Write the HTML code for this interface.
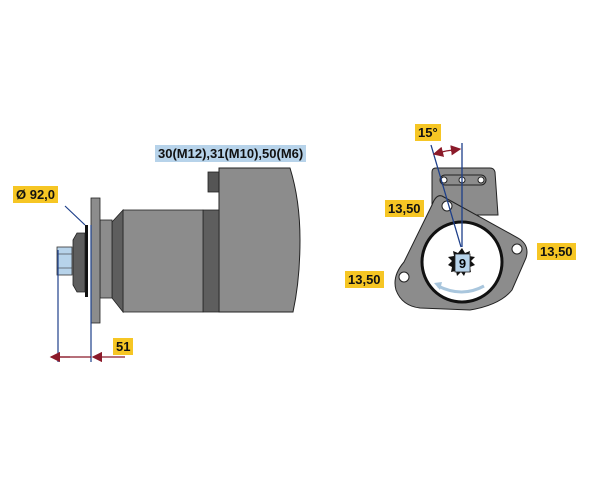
<!DOCTYPE html>
<html><head><style>
body{margin:0;background:#fff;}
.l{position:absolute;font-family:"Liberation Sans",sans-serif;font-weight:bold;font-size:13px;color:#111;}
.y{background:#f6c624;padding:1px 3px;}
</style></head><body>
<div style="position:relative;width:600px;height:500px;overflow:hidden">
<svg width="600" height="500" style="position:absolute;left:0;top:0">
<defs><marker id="a" markerWidth="8" markerHeight="8" refX="7" refY="4" orient="auto"><path d="M0,0 L8,4 L0,8z" fill="#8b1a2a"/></marker></defs>
<!-- left starter -->
<rect x="208" y="172" width="12" height="20" fill="#555" stroke="#222" stroke-width="0.8"/>
<path d="M219,168 H290 Q300,200 300,240 Q300,280 293,312 H219 Z" fill="#8c8c8c" stroke="#222"/>
<rect x="203" y="210" width="16" height="102" fill="#5e5e5e" stroke="#222" stroke-width="0.8"/>
<rect x="123" y="210" width="80" height="102" fill="#8c8c8c" stroke="#222" stroke-width="0.8"/>
<path d="M123,210 L112,222 V298 L123,312 Z" fill="#5e5e5e" stroke="#222" stroke-width="0.8"/>
<rect x="100" y="220" width="12" height="78" fill="#8c8c8c" stroke="#222" stroke-width="0.8"/>
<rect x="91" y="198" width="9" height="125" fill="#8c8c8c" stroke="#222" stroke-width="0.8"/>
<rect x="85" y="225" width="3" height="72" fill="#111"/>
<path d="M85,233 H77 L73,240 V285 L77,292 H85Z" fill="#5e5e5e" stroke="#222" stroke-width="0.8"/>
<rect x="57" y="247" width="15" height="28" fill="#b7d3ea" stroke="#333" stroke-width="0.8"/>
<line x1="57" y1="254" x2="72" y2="254" stroke="#333" stroke-width="0.6"/>
<line x1="57" y1="268" x2="72" y2="268" stroke="#333" stroke-width="0.6"/>
<line x1="58" y1="250" x2="58" y2="362" stroke="#1d3f8a" stroke-width="1.2"/>
<line x1="91" y1="225" x2="91" y2="362" stroke="#1d3f8a" stroke-width="1.2"/>
<line x1="65" y1="206" x2="85" y2="225" stroke="#1d3f8a" stroke-width="1.2"/>
<line x1="125" y1="357" x2="93" y2="357" stroke="#8b1a2a" stroke-width="1.3" marker-end="url(#a)"/>
<line x1="70" y1="357" x2="51" y2="357" stroke="#8b1a2a" stroke-width="1.3" marker-end="url(#a)"/>
<line x1="58" y1="357" x2="91" y2="357" stroke="#8b1a2a" stroke-width="1.3"/>
<!-- right view -->
<path d="M432,215 V172 Q432,168 436,168 H490 Q494,168 495,172 L498,215 Z" fill="#8c8c8c" stroke="#222"/>
<rect x="440" y="175" width="46" height="10" rx="5" fill="#8c8c8c" stroke="#222"/>
<circle cx="444" cy="180" r="3" fill="#fff" stroke="#222"/><circle cx="462" cy="180" r="3" fill="#fff" stroke="#222"/><circle cx="481" cy="180" r="3" fill="#fff" stroke="#222"/>
<path d="M442,196 L518,238 Q530,245 526,258 L512,290 Q500,305 470,310 L420,308 Q402,306 396,290 Q392,276 404,262 L432,205 Q436,194 442,196 Z" fill="#8c8c8c" stroke="#222"/>
<circle cx="462" cy="262" r="40" fill="#fff" stroke="#111" stroke-width="3"/>
<circle cx="447" cy="206" r="5" fill="#fff" stroke="#222"/>
<circle cx="517" cy="249" r="5" fill="#fff" stroke="#222"/>
<circle cx="404" cy="277" r="5" fill="#fff" stroke="#222"/>
<polygon fill="#111" points="462,248 465,253 470,251 469,256 475,257 471,261 475,265 470,267 471,272 466,271 464,276 461,272 457,276 456,271 451,272 452,267 448,265 452,261 448,257 454,256 453,251 458,253"/>
<rect x="455" y="254" width="15" height="18" fill="#b7d3ea" stroke="#222" stroke-width="0.8"/>
<text x="462.5" y="268" font-family="Liberation Sans" font-weight="bold" font-size="13" text-anchor="middle">9</text>
<path d="M484,286 Q462,298 438,286" fill="none" stroke="#a9c6dd" stroke-width="3"/>
<path d="M434,283 L442,282 L440,290Z" fill="#a9c6dd"/>
<line x1="431" y1="145" x2="461" y2="247" stroke="#1d3f8a" stroke-width="1.3"/>
<line x1="462" y1="143" x2="462" y2="247" stroke="#1d3f8a" stroke-width="1.3"/>
<line x1="446" y1="151" x2="434" y2="154" stroke="#8b1a2a" stroke-width="1.3" marker-end="url(#a)"/>
<line x1="446" y1="151" x2="460" y2="149" stroke="#8b1a2a" stroke-width="1.3" marker-end="url(#a)"/>
</svg>
<div class="l" style="left:155px;top:145px;background:#b7d3ea;padding:1px 3px;">30(M12),31(M10),50(M6)</div>
<div class="l y" style="left:13px;top:186px;">Ø 92,0</div>
<div class="l y" style="left:113px;top:338px;">51</div>
<div class="l y" style="left:415px;top:124px;">15°</div>
<div class="l y" style="left:385px;top:200px;">13,50</div>
<div class="l y" style="left:537px;top:243px;">13,50</div>
<div class="l y" style="left:345px;top:271px;">13,50</div>
</div>
</body></html>
